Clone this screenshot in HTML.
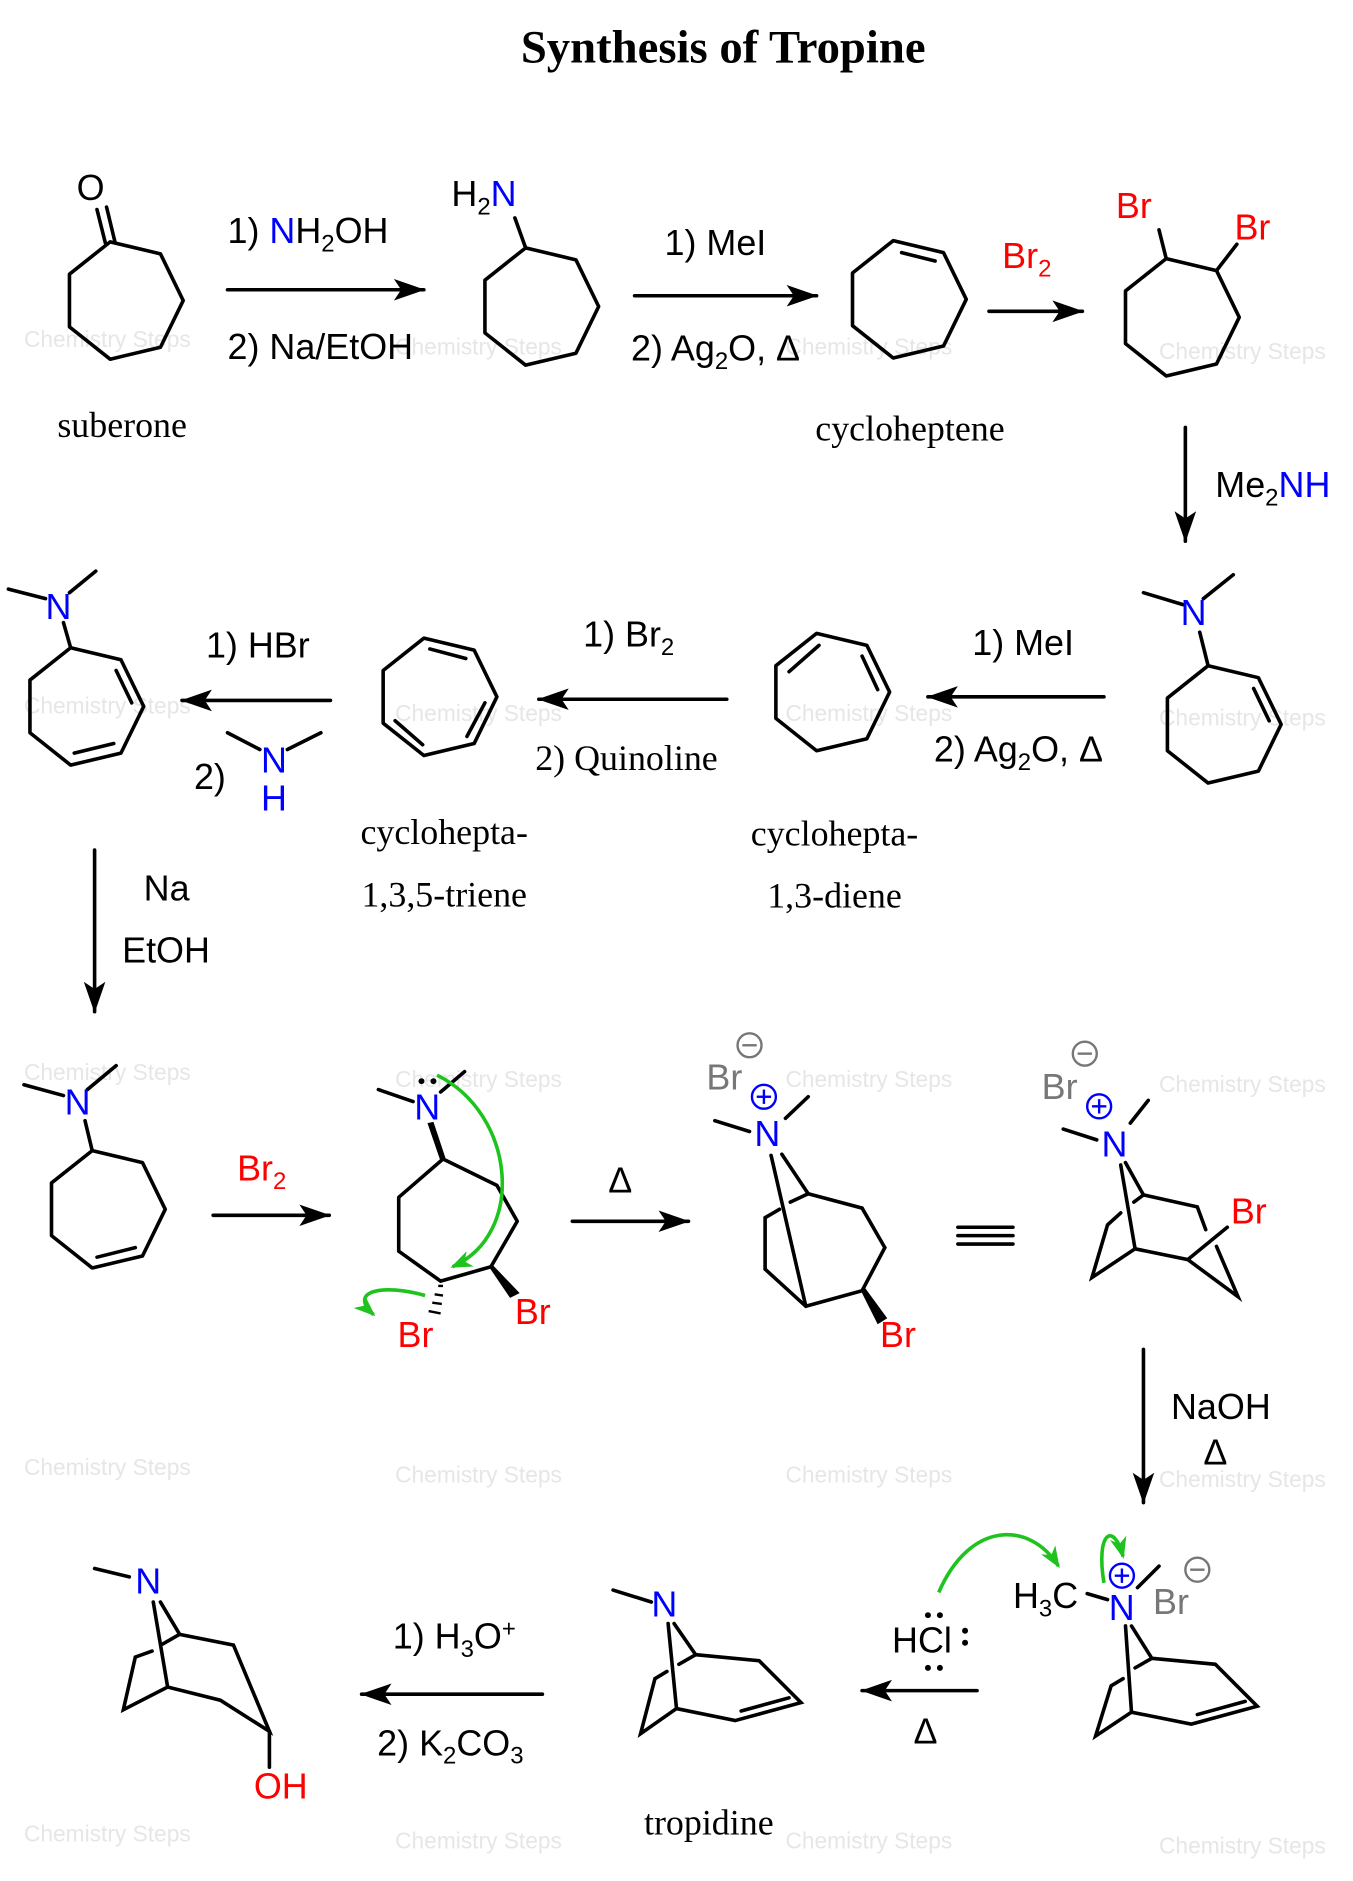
<!DOCTYPE html>
<html><head><meta charset="utf-8"><style>
html,body{margin:0;padding:0;background:#fff}
svg{display:block}
.s{font-family:"Liberation Sans",sans-serif;font-size:30px}
.r{font-family:"Liberation Serif",serif;font-size:30px}
.wm{font-family:"Liberation Sans",sans-serif;font-size:19px;fill:#e6e6e6}
</style></head><body>
<svg width="1353" height="1881" viewBox="0 0 1130 1571" xmlns="http://www.w3.org/2000/svg">
<defs>
<polygon id="hep" points="50,0 31,39 -11,49 -45,22 -45,-22 -11,-49 31,-39" fill="none" stroke="#000" stroke-width="3" stroke-linejoin="round"/>
<marker id="ahb" markerWidth="26" markerHeight="20" refX="25" refY="10" orient="auto" markerUnits="userSpaceOnUse" viewBox="0 0 26 20"><path d="M0,1 L26,10 L0,19 L6,10 z" fill="#000"/></marker>
<marker id="gh" markerWidth="18" markerHeight="14" refX="16" refY="7" orient="auto" markerUnits="userSpaceOnUse" viewBox="0 0 18 14"><path d="M0,0 L18,7 L0,14 L5,7 z" fill="#1ec31e"/></marker>
</defs>

<g class="wm">
<text x="20" y="290">Chemistry Steps</text><text x="330" y="296">Chemistry Steps</text><text x="656" y="296">Chemistry Steps</text><text x="968" y="300">Chemistry Steps</text>
<text x="20" y="596">Chemistry Steps</text><text x="330" y="602">Chemistry Steps</text><text x="656" y="602">Chemistry Steps</text><text x="968" y="606">Chemistry Steps</text>
<text x="20" y="902">Chemistry Steps</text><text x="330" y="908">Chemistry Steps</text><text x="656" y="908">Chemistry Steps</text><text x="968" y="912">Chemistry Steps</text>
<text x="20" y="1232">Chemistry Steps</text><text x="330" y="1238">Chemistry Steps</text><text x="656" y="1238">Chemistry Steps</text><text x="968" y="1242">Chemistry Steps</text>
<text x="20" y="1538">Chemistry Steps</text><text x="330" y="1544">Chemistry Steps</text><text x="656" y="1544">Chemistry Steps</text><text x="968" y="1548">Chemistry Steps</text>
</g>

<text x="604" y="52" text-anchor="middle" font-family="Liberation Serif,serif" font-size="39" font-weight="bold">Synthesis of Tropine</text>

<g stroke="#000" stroke-width="3" fill="none" stroke-linecap="round">
<!-- suberone -->
<use href="#hep" x="103" y="251"/>
<line x1="96" y1="202" x2="89" y2="173"/><line x1="88" y1="203" x2="81" y2="175"/>
<!-- amine -->
<use href="#hep" x="450" y="256"/>
<line x1="439" y1="207" x2="430" y2="182"/>
<!-- cycloheptene -->
<use href="#hep" x="757" y="250"/>
<line x1="753" y1="211" x2="781" y2="218"/>
<!-- dibromide -->
<use href="#hep" x="985" y="265"/>
<line x1="974" y1="216" x2="968" y2="192"/><line x1="1016" y1="226" x2="1033" y2="204"/>
<line x1="190" y1="242" x2="354" y2="242" marker-end="url(#ahb)"/>
<line x1="530" y1="247" x2="682" y2="247" marker-end="url(#ahb)"/>
<line x1="826" y1="260" x2="904" y2="260" marker-end="url(#ahb)"/>
<line x1="990" y1="357" x2="990" y2="452" marker-end="url(#ahb)"/>

<!-- row2 right amine -->
<use href="#hep" x="1020" y="605"/>
<line x1="1009" y1="556" x2="1002" y2="528"/>
<line x1="988" y1="505" x2="955" y2="495"/><line x1="1005" y1="500" x2="1030" y2="480"/>
<line x1="1047" y1="575" x2="1060" y2="602"/>
<line x1="922" y1="582" x2="775" y2="582" marker-end="url(#ahb)"/>
<!-- diene -->
<use href="#hep" x="693" y="578"/>
<line x1="659" y1="561" x2="684" y2="539"/><line x1="720" y1="548" x2="733" y2="576"/>
<line x1="607" y1="584" x2="450" y2="584" marker-end="url(#ahb)"/>
<!-- triene -->
<use href="#hep" x="365" y="582"/>
<line x1="359" y1="542" x2="389" y2="550"/><line x1="405" y1="587" x2="390" y2="615"/><line x1="353" y1="622" x2="330" y2="602"/>
<line x1="276" y1="585" x2="152" y2="585" marker-end="url(#ahb)"/>
<line x1="190" y1="612" x2="217" y2="626"/><line x1="240" y1="626" x2="268" y2="612"/>
<!-- left diene amine -->
<use href="#hep" x="70" y="590"/>
<line x1="59" y1="541" x2="53" y2="520"/>
<line x1="38" y1="500" x2="7" y2="492"/><line x1="58" y1="495" x2="80" y2="477"/>
<line x1="97" y1="560" x2="110" y2="587"/><line x1="95" y1="621" x2="62" y2="629"/>
<line x1="79" y1="710" x2="79" y2="845" marker-end="url(#ahb)"/>

<!-- row3 amine -->
<use href="#hep" x="88" y="1010"/>
<line x1="77" y1="961" x2="71" y2="936"/>
<line x1="53" y1="915" x2="20" y2="906"/><line x1="73" y1="910" x2="97" y2="890"/>
<line x1="81" y1="1050" x2="113" y2="1042"/>
<line x1="178" y1="1015" x2="275" y2="1015" marker-end="url(#ahb)"/>
<!-- dibromo amine -->
<polygon points="370,968 415,990 432,1020 410,1058 368,1070 333,1045 333,1000" stroke-linejoin="round"/>
<line x1="316" y1="910" x2="345" y2="920"/><line x1="368" y1="912" x2="388" y2="895"/>
<line x1="478" y1="1020" x2="575" y2="1020" marker-end="url(#ahb)"/>
<!-- ammonium 1 -->
<line x1="597" y1="936" x2="626" y2="945"/><line x1="656" y1="934" x2="675" y2="916"/>
<line x1="644" y1="965" x2="673" y2="1091"/><line x1="653" y1="964" x2="675" y2="997"/>
<polyline points="675,997 720,1009 739,1042 720,1078 673,1091 639,1060 639,1017 651,1010"/>
<line x1="675" y1="997" x2="660" y2="1004"/>
<!-- ammonium 2 -->
<line x1="888" y1="943" x2="916" y2="952"/><line x1="944" y1="938" x2="959" y2="919"/>
<line x1="936" y1="973" x2="948" y2="1043"/><line x1="940" y1="971" x2="955" y2="998"/>
<polyline points="955,998 1000,1008 1007,1027"/>
<line x1="955" y1="998" x2="947" y2="1004"/>
<polyline points="936,1013 925,1023 912,1067 948,1043 992,1052 1034,1083 1016,1041"/>
<line x1="992" y1="1052" x2="1025" y2="1025"/>
<line x1="955" y1="1127" x2="955" y2="1255" marker-end="url(#ahb)"/>
<line x1="800" y1="1025" x2="846" y2="1025"/><line x1="800" y1="1032" x2="846" y2="1032"/><line x1="800" y1="1039" x2="846" y2="1039"/>

<!-- row4 right -->
<line x1="908" y1="1331" x2="925" y2="1336"/><line x1="950" y1="1326" x2="968" y2="1308"/>
<line x1="940" y1="1358" x2="945" y2="1430"/><line x1="945" y1="1358" x2="962" y2="1385"/>
<polyline points="962,1385 1015,1390 1050,1425 995,1440 945,1430 915,1450 928,1408 938,1402"/>
<line x1="962" y1="1385" x2="948" y2="1393"/>
<line x1="1000" y1="1432" x2="1040" y2="1421"/>
<line x1="816" y1="1412" x2="720" y2="1412" marker-end="url(#ahb)"/>
<!-- tropidine -->
<line x1="512" y1="1328" x2="544" y2="1338"/>
<line x1="558" y1="1356" x2="565" y2="1427"/><line x1="563" y1="1356" x2="581" y2="1382"/>
<polyline points="581,1382 634,1387 669,1422 614,1437 565,1427 535,1448 547,1402 557,1396"/>
<line x1="581" y1="1382" x2="567" y2="1390"/>
<line x1="619" y1="1429" x2="659" y2="1418"/>
<line x1="453" y1="1415" x2="302" y2="1415" marker-end="url(#ahb)"/>
<!-- tropine -->
<line x1="79" y1="1310" x2="108" y2="1317"/>
<line x1="128" y1="1338" x2="140" y2="1409"/><line x1="134" y1="1338" x2="150" y2="1365"/>
<polyline points="150,1365 195,1374 225,1446 184,1420 140,1409 103,1428 113,1384 127,1379"/>
<line x1="150" y1="1365" x2="136" y2="1373"/>
<line x1="225" y1="1446" x2="225" y2="1476"/>
</g>

<polygon points="368,970 372,967 362,937 357,938" fill="#000"/>
<polygon points="409,1059 412,1057 434,1080 426,1084" fill="#000"/>
<g stroke="#000" stroke-width="2"><line x1="366" y1="1074" x2="370" y2="1074"/><line x1="363" y1="1081" x2="370" y2="1082"/><line x1="361" y1="1088" x2="369" y2="1089"/><line x1="358" y1="1095" x2="368" y2="1097"/></g>
<polygon points="719,1078 722,1075 741,1101 733,1106" fill="#000"/>

<g stroke="#1ec31e" stroke-width="3" fill="none">
<path d="M365,898 C430,930 440,1030 378,1058" marker-end="url(#gh)"/>
<path d="M355,1082 C320,1072 290,1078 312,1098" marker-end="url(#gh)"/>
<path d="M784,1330 C810,1270 860,1270 884,1308" marker-end="url(#gh)"/>
<path d="M922,1322 C915,1280 930,1270 938,1300" marker-end="url(#gh)"/>
</g>

<g class="s">
<text x="64" y="167">O</text>
<text x="190" y="203">1) <tspan fill="#0000ff">N</tspan>H<tspan font-size="20" dy="7">2</tspan><tspan dy="-7">OH</tspan></text>
<text x="190" y="300">2) Na/EtOH</text>
<text x="377" y="172">H<tspan font-size="20" dy="7">2</tspan><tspan dy="-7" fill="#0000ff">N</tspan></text>
<text x="555" y="213">1) MeI</text>
<text x="527" y="301">2) Ag<tspan font-size="20" dy="7">2</tspan><tspan dy="-7">O, Δ</tspan></text>
<text x="837" y="224" fill="#ff0000">Br<tspan font-size="20" dy="7">2</tspan></text>
<text x="932" y="182" fill="#ff0000">Br</text>
<text x="1031" y="200" fill="#ff0000">Br</text>
<text x="1015" y="415">Me<tspan font-size="20" dy="7">2</tspan><tspan dy="-7" fill="#0000ff">NH</tspan></text>
<text x="986" y="522" fill="#0000ff">N</text>
<text x="812" y="547">1) MeI</text>
<text x="780" y="636">2) Ag<tspan font-size="20" dy="7">2</tspan><tspan dy="-7">O, Δ</tspan></text>
<text x="487" y="540">1) Br<tspan font-size="20" dy="7">2</tspan></text>
<text x="172" y="549">1) HBr</text>
<text x="162" y="659">2)</text>
<text x="218" y="645" fill="#0000ff">N</text>
<text x="218" y="677" fill="#0000ff">H</text>
<text x="38" y="517" fill="#0000ff">N</text>
<text x="120" y="752">Na</text>
<text x="102" y="804">EtOH</text>
<text x="54" y="931" fill="#0000ff">N</text>
<text x="198" y="986" fill="#ff0000">Br<tspan font-size="20" dy="7">2</tspan></text>
<text x="346" y="935" fill="#0000ff">N</text>
<text x="332" y="1125" fill="#ff0000">Br</text>
<text x="430" y="1106" fill="#ff0000">Br</text>
<text x="508" y="996">Δ</text>
<text x="590" y="910" fill="#777">Br</text>
<text x="630" y="957" fill="#0000ff">N</text>
<text x="735" y="1125" fill="#ff0000">Br</text>
<text x="870" y="918" fill="#777">Br</text>
<text x="920" y="966" fill="#0000ff">N</text>
<text x="1028" y="1022" fill="#ff0000">Br</text>
<text x="978" y="1185">NaOH</text>
<text x="1005" y="1223">Δ</text>
<text x="846" y="1343">H<tspan font-size="20" dy="7">3</tspan><tspan dy="-7">C</tspan></text>
<text x="926" y="1353" fill="#0000ff">N</text>
<text x="963" y="1348" fill="#777">Br</text>
<text x="745" y="1380">HCl</text>
<text x="763" y="1456">Δ</text>
<text x="544" y="1350" fill="#0000ff">N</text>
<text x="328" y="1377">1) H<tspan font-size="20" dy="7">3</tspan><tspan dy="-7">O</tspan><tspan font-size="20" dy="-10">+</tspan></text>
<text x="315" y="1466">2) K<tspan font-size="20" dy="7">2</tspan><tspan dy="-7">CO</tspan><tspan font-size="20" dy="7">3</tspan></text>
<text x="113" y="1331" fill="#0000ff">N</text>
<text x="212" y="1502" fill="#ff0000">OH</text>
</g>
<g fill="none" stroke-width="2">
<circle cx="626" cy="873" r="10" stroke="#777"/><line x1="620" y1="873" x2="632" y2="873" stroke="#777"/>
<circle cx="638" cy="916" r="10" stroke="#0000ff"/><line x1="632" y1="916" x2="644" y2="916" stroke="#0000ff"/><line x1="638" y1="910" x2="638" y2="922" stroke="#0000ff"/>
<circle cx="906" cy="880" r="10" stroke="#777"/><line x1="900" y1="880" x2="912" y2="880" stroke="#777"/>
<circle cx="918" cy="924" r="10" stroke="#0000ff"/><line x1="912" y1="924" x2="924" y2="924" stroke="#0000ff"/><line x1="918" y1="918" x2="918" y2="930" stroke="#0000ff"/>
<circle cx="1000" cy="1311" r="10" stroke="#777"/><line x1="994" y1="1311" x2="1006" y2="1311" stroke="#777"/>
<circle cx="937" cy="1316" r="10" stroke="#0000ff"/><line x1="931" y1="1316" x2="943" y2="1316" stroke="#0000ff"/><line x1="937" y1="1310" x2="937" y2="1322" stroke="#0000ff"/>
</g>
<g fill="#000">
<circle cx="352" cy="903" r="2.5"/><circle cx="362" cy="903" r="2.5"/>
<circle cx="775" cy="1349" r="2.5"/><circle cx="785" cy="1349" r="2.5"/>
<circle cx="775" cy="1393" r="2.5"/><circle cx="785" cy="1393" r="2.5"/>
<circle cx="806" cy="1362" r="2.5"/><circle cx="806" cy="1372" r="2.5"/>
</g>
<g class="r">
<text x="102" y="365" text-anchor="middle">suberone</text>
<text x="760" y="368" text-anchor="middle">cycloheptene</text>
<text x="447" y="643">2) Quinoline</text>
<text x="371" y="705" text-anchor="middle">cyclohepta-</text>
<text x="371" y="757" text-anchor="middle">1,3,5-triene</text>
<text x="697" y="706" text-anchor="middle">cyclohepta-</text>
<text x="697" y="758" text-anchor="middle">1,3-diene</text>
<text x="592" y="1532" text-anchor="middle">tropidine</text>
</g>
</svg>
</body></html>
